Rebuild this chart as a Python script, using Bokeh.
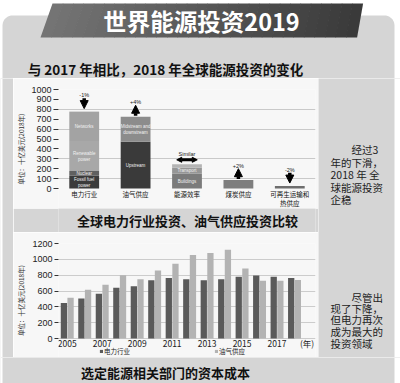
from bokeh.plotting import figure
from bokeh.layouts import column, row
from bokeh.models import (Range1d, FixedTicker, Arrow, NormalHead, Legend, LegendItem,
                          ColumnDataSource)
from bokeh.core.properties import value
from bokeh.transform import dodge
from bokeh.embed import file_html
from bokeh.resources import INLINE
import math

# ---------------- data ----------------
# Chart 1: change of global energy investment 2018 vs 2017 (billion USD, 2018)
sectors = ["电力行业", "油气供应", "能源效率", "煤炭供应", "可再生运输和\n热供应"]
change_labels = ["-1%", "+4%", "Similar", "+2%", "-2%"]
change_dir = [-1, 1, 0, 1, -1]

seg_sector = [0, 0, 0, 0, 0, 1, 1, 2, 2, 2, 3, 4]
seg_name = ["Fossil fuel\npower", "Nuclear", "Renewable\npower", "Networks", "Battery\nstorage",
            "Upstream", "Midstream and\ndownstream", "Buildings", "Transport", "Industry", "", ""]
seg_value = [130, 46, 304, 293, 4, 472, 254, 150, 60, 35, 85, 25]
y1_ticks = [0, 100, 200, 300, 400, 500, 600, 700, 800, 900, 1000]
y1_grid = [100, 300, 600, 800]

# Chart 2: power sector vs oil & gas supply investment
years = [2005, 2006, 2007, 2008, 2009, 2010, 2011, 2012, 2013, 2014, 2015, 2016, 2017, 2018]
power_inv = [450, 505, 565, 640, 660, 735, 765, 750, 735, 750, 780, 795, 780, 765]
oilgas_inv = [515, 615, 680, 800, 750, 860, 945, 1055, 1080, 1120, 885, 730, 730, 740]
y2_ticks = [0, 200, 400, 600, 800, 1000, 1200]
x2_ticks = [2005, 2007, 2009, 2011, 2013, 2015, 2017]
year_unit = "(年)"
series_names = ["电力行业", "油气供应"]

title_main = "世界能源投资2019"
title_1 = "与 2017 年相比，2018 年全球能源投资的变化"
title_2 = "全球电力行业投资、油气供应投资比较"
title_3 = "选定能源相关部门的资本成本"
unit_label = "单位：十亿美元(2018年)"
note_1 = ["\u3000\u3000经过3", "年的下滑，", "2018 年 全", "球能源投资", "企稳"]
note_2 = ["\u3000\u3000尽管出", "现了下降，", "但电力再次", "成为最大的", "投资领域"]

# ---------------- style ----------------
CARD = "#d5d5d5"
PANEL = "#f7f7f7"
CJK = "Noto Sans CJK SC"
NUM = "Liberation Sans"
seg_colors = ["#3b3b3b", "#606060", "#a8a8a8", "#a3a3a3", "#b8b8b8",
              "#3a3a3a", "#8c8c8c", "#7b7b7b", "#969696", "#b4b4b4", "#7e7e7e", "#6e6e6e"]


def deco(w, h, bg=CARD):
    f = figure(width=w, height=h, x_range=Range1d(0, w), y_range=Range1d(h, 0),
               output_backend="svg", toolbar_location=None, tools="",
               x_axis_location=None, y_axis_location=None, min_border=0)
    f.xgrid.grid_line_color = None
    f.ygrid.grid_line_color = None
    f.outline_line_color = None
    f.background_fill_color = bg
    f.border_fill_color = bg
    return f


# ---------------- header (page y 0-78) ----------------
hdr = deco(400, 78, bg="white")
R = 10
cx, cy = [], []
for k in range(11):
    a = math.pi + k * (math.pi / 2) / 10
    cx.append(2 + R + R * math.cos(a))
    cy.append(15 + R + R * math.sin(a))
for k in range(11):
    a = 1.5 * math.pi + k * (math.pi / 2) / 10
    cx.append(394 - R + R * math.cos(a))
    cy.append(15 + R + R * math.sin(a))
cx += [394, 2]
cy += [90, 90]
hdr.patch(cx, cy, fill_color=CARD, line_color=None)
N = 30
xs, ys, cols = [], [], []
for i in range(N):
    t0, t1 = i / N, (i + 1) / N
    xs.append([52 + t0 * 310, 52 + t1 * 310 + 0.6, 40 + t1 * 316 + 0.6, 40 + t0 * 316])
    ys.append([3, 3, 37, 37])
    g = int(0x74 - (0x74 - 0x3a) * (i / (N - 1)))
    cols.append("#%02x%02x%02x" % (g, g, g))
hdr.patches(xs, ys, fill_color=cols, line_color=None)
hdr.text(x=[201], y=[20], text=[title_main], text_font=value(CJK), text_font_size="23.5px",
         text_font_style="bold", text_color="white", text_align="center", text_baseline="middle")
hdr.text(x=[165], y=[68], text=[title_1], text_font=value(CJK), text_font_size="13.5px",
         text_font_style="bold", text_color="#111111", text_align="center", text_baseline="middle")

# ---------------- chart 1 (page x 13-318, y 78-208) ----------------
c1 = figure(width=305, height=130, x_range=Range1d(0, 5), y_range=Range1d(-202, 1000),
            output_backend="svg", toolbar_location=None, tools="", x_axis_location=None,
            min_border_left=42, min_border_right=3, min_border_top=11, min_border_bottom=0)
c1.background_fill_color = PANEL
c1.border_fill_color = PANEL
c1.outline_line_color = None

bottoms = []
running = [0] * len(sectors)
for s, v in zip(seg_sector, seg_value):
    bottoms.append(running[s])
    running[s] += v
totals = running
src1 = ColumnDataSource(dict(
    x=[s + 0.5 for s in seg_sector], bottom=bottoms,
    top=[b + v for b, v in zip(bottoms, seg_value)], color=seg_colors,
    mid=[b + v / 2 for b, v in zip(bottoms, seg_value)],
    name=[n if v >= 40 else "" for n, v in zip(seg_name, seg_value)]))
c1.vbar(x="x", bottom="bottom", top="top", width=0.58, fill_color="color", line_color=None, source=src1)
c1.text(x="x", y="mid", text="name", source=src1, text_font=value(NUM), text_font_size="4.5px",
        text_color="#f2f2f2", text_align="center", text_baseline="middle")

lab_x, lab_y = [], []
for i, d in enumerate(change_dir):
    x = i + 0.5
    top = totals[i]
    if d < 0:
        c1.add_layout(Arrow(end=NormalHead(size=8, fill_color="black", line_color="black"),
                            x_start=x, y_start=top + 135, x_end=x, y_end=top + 30,
                            line_width=3.5, line_color="black"))
        ly = top + 165
    elif d > 0:
        c1.add_layout(Arrow(end=NormalHead(size=8, fill_color="black", line_color="black"),
                            x_start=x, y_start=top + 10, x_end=x, y_end=top + 115,
                            line_width=3.5, line_color="black"))
        ly = top + 145
    else:
        c1.add_layout(Arrow(start=NormalHead(size=5, fill_color="black", line_color="black"),
                            end=NormalHead(size=5, fill_color="black", line_color="black"),
                            x_start=x - 0.2, y_start=top + 45, x_end=x + 0.2, y_end=top + 45,
                            line_width=3, line_color="black"))
        ly = top + 105
    lab_x.append(x)
    lab_y.append(ly)
c1.text(x=lab_x, y=lab_y, text=change_labels, text_font=value(NUM), text_font_size="5.5px",
        text_color="#222222", text_align="center", text_baseline="middle")
# category labels under the bars
c1.text(x=[i + 0.5 for i in range(len(sectors))], y=[-10] * len(sectors), text=sectors,
        text_font=value(CJK), text_font_size="6.5px", text_color="#111111",
        text_align="center", text_baseline="top", text_line_height=0.85)

c1.yaxis.ticker = FixedTicker(ticks=y1_ticks)
c1.yaxis.bounds = (0, 1000)
c1.ygrid.ticker = FixedTicker(ticks=y1_grid)
c1.ygrid.grid_line_color = "#c9c9c9"
c1.xgrid.grid_line_color = None
c1.yaxis.axis_line_color = None
c1.yaxis.major_tick_out = 5
c1.yaxis.major_tick_in = 0
c1.yaxis.minor_tick_line_color = None
c1.yaxis.major_tick_line_color = "#333333"
c1.yaxis.major_label_standoff = 2
c1.yaxis.major_label_text_font = NUM
c1.yaxis.major_label_text_font_size = "9px"
c1.yaxis.major_label_text_color = "#222222"
c1.yaxis.axis_label = unit_label
c1.yaxis.axis_label_text_font = CJK
c1.yaxis.axis_label_text_font_size = "6.5px"
c1.yaxis.axis_label_text_font_style = "normal"
c1.yaxis.axis_label_text_color = "#333333"
c1.yaxis.axis_label_standoff = 2

# ---------------- middle title (page y 208-232) ----------------
mid = deco(305, 24)
mid.text(x=[153], y=[12], text=[title_2], text_font=value(CJK), text_font_size="13px",
         text_font_style="bold", text_color="#111111", text_align="center", text_baseline="middle")

# ---------------- chart 2 (page x 13-318, y 232-357) ----------------
c2 = figure(width=305, height=125, x_range=Range1d(2004.5, 2019.2), y_range=Range1d(-240, 1200),
            output_backend="svg", toolbar_location=None, tools="", x_axis_location=None,
            min_border_left=39, min_border_right=0, min_border_top=11, min_border_bottom=0)
c2.background_fill_color = PANEL
c2.border_fill_color = PANEL
c2.outline_line_color = None
src2 = ColumnDataSource(dict(year=years, power=power_inv, oilgas=oilgas_inv))
r_p = c2.vbar(x=dodge("year", -0.19, range=c2.x_range), top="power", width=0.36,
              fill_color="#5a5a5a", line_color=None, source=src2)
r_o = c2.vbar(x=dodge("year", 0.19, range=c2.x_range), top="oilgas", width=0.36,
              fill_color="#b3b3b3", line_color=None, source=src2)
c2.yaxis.ticker = FixedTicker(ticks=y2_ticks)
c2.yaxis.bounds = (0, 1200)
c2.ygrid.ticker = FixedTicker(ticks=y2_ticks)
c2.ygrid.grid_line_color = "#cccccc"
c2.xgrid.grid_line_color = None
c2.yaxis.axis_line_color = None
c2.yaxis.major_tick_out = 4
c2.yaxis.major_tick_in = 0
c2.yaxis.minor_tick_line_color = None
c2.yaxis.major_tick_line_color = "#333333"
c2.yaxis.major_label_standoff = 2
c2.yaxis.major_label_text_font = NUM
c2.yaxis.major_label_text_font_size = "9px"
c2.yaxis.major_label_text_color = "#222222"
c2.yaxis.axis_label = unit_label
c2.yaxis.axis_label_text_font = CJK
c2.yaxis.axis_label_text_font_size = "6.5px"
c2.yaxis.axis_label_text_font_style = "normal"
c2.yaxis.axis_label_text_color = "#333333"
c2.yaxis.axis_label_standoff = 3
# year labels
year_unit_pos = 2018.72
c2.text(x=x2_ticks + [year_unit_pos], y=[-63] * (len(x2_ticks) + 1),
        text=[str(t) for t in x2_ticks] + [year_unit], text_font=value(CJK),
        text_font_size="8.5px", text_color="#222222", text_align="center", text_baseline="middle")
leg = Legend(items=[LegendItem(label=series_names[0], renderers=[r_p]),
                    LegendItem(label=series_names[1], renderers=[r_o])],
             orientation="horizontal", location=(41, 1), spacing=84,
             glyph_width=4, glyph_height=4, label_standoff=1,
             label_text_font=CJK, label_text_font_size="6.5px", label_text_color="#222222",
             label_height=7, label_width=10,
             padding=0, margin=0, border_line_color=None, background_fill_alpha=0)
c2.add_layout(leg, "center")

# ---------------- side notes (page x 0-13 and 318-400) ----------------
gap = deco(13, 279)
gap.quad(left=-1, right=2, top=0, bottom=279, fill_color="white", line_color=None)
side = deco(82, 279)
side.quad(left=76, right=83, top=0, bottom=279, fill_color="white", line_color=None)
side.text(x=[12] * 5, y=[71, 84, 96, 109, 121], text=note_1, text_font=value(CJK),
          text_font_size="10.5px", text_color="#222222", text_align="left", text_baseline="middle")
side.text(x=[12] * 5, y=[219, 230, 241, 253, 265], text=note_2, text_font=value(CJK),
          text_font_size="10.5px", text_color="#222222", text_align="left", text_baseline="middle")

# ---------------- footer (page y 357-383) ----------------
ftr = deco(400, 26)
ftr.quad(left=-1, right=2, top=0, bottom=26, fill_color="white", line_color=None)
ftr.quad(left=394, right=401, top=0, bottom=26, fill_color="white", line_color=None)
ftr.text(x=[165], y=[15], text=[title_3], text_font=value(CJK), text_font_size="13px",
         text_font_style="bold", text_color="#111111", text_align="center", text_baseline="middle")

page = column(hdr, row(gap, column(c1, mid, c2, spacing=0), side, spacing=0), ftr, spacing=0)

open("out.html", "w").write(file_html(page, INLINE))
